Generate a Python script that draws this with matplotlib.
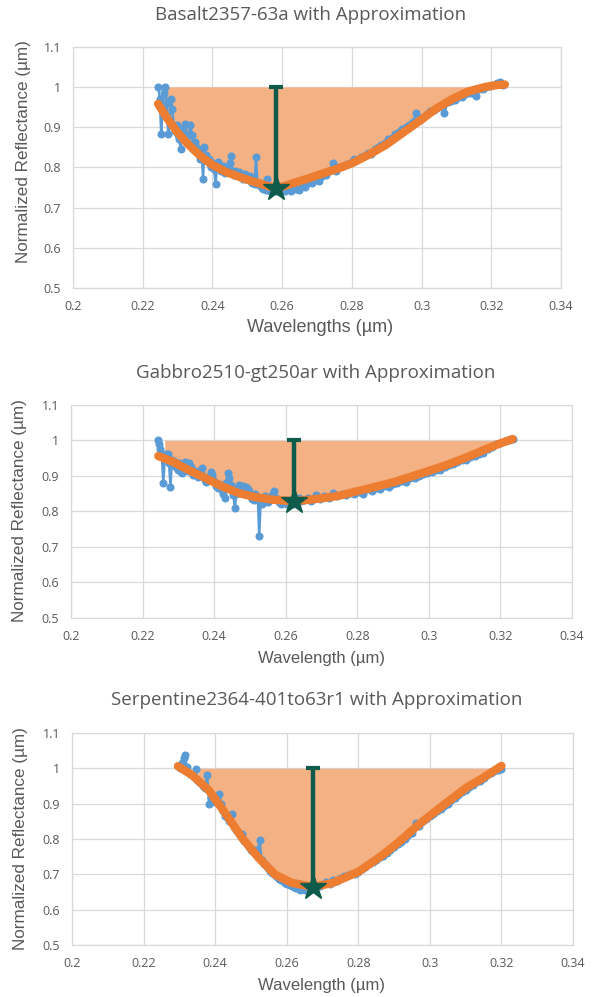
import numpy as np
import matplotlib
matplotlib.use("Agg")
import matplotlib.pyplot as plt

# ---------------- data ----------------
TITLES = ["Basalt2357-63a with Approximation",
          "Gabbro2510-gt250ar with Approximation",
          "Serpentine2364-401to63r1 with Approximation"]
XLABELS = ["Wavelengths (µm)", "Wavelength (µm)", "Wavelength (µm)"]
YLABEL = "Normalized Reflectance (µm)"

XTICKS = [0.2, 0.22, 0.24, 0.26, 0.28, 0.3, 0.32, 0.34]
XTICKLABELS = ["0.2", "0.22", "0.24", "0.26", "0.28", "0.3", "0.32", "0.34"]
YTICKS = [0.5, 0.6, 0.7, 0.8, 0.9, 1.0, 1.1]
YTICKLABELS = ["0.5", "0.6", "0.7", "0.8", "0.9", "1", "1.1"]

# Basalt measured spectrum
basalt_x = [0.2245, 0.2249, 0.2253, 0.2257, 0.2261, 0.2265, 0.2269, 0.2273, 0.2277, 0.2281,
            0.2285, 0.2289, 0.2293, 0.2297, 0.2301, 0.2305, 0.2309, 0.2313, 0.2317, 0.2321,
            0.2325, 0.2329, 0.2333, 0.2337, 0.2341, 0.2345, 0.2349, 0.2353, 0.2357, 0.2361,
            0.2365, 0.2369, 0.2373, 0.2377, 0.2381, 0.2385, 0.2389, 0.2393, 0.2397, 0.2401,
            0.2405, 0.2409, 0.2413, 0.2417, 0.2421, 0.2425, 0.2429, 0.2433, 0.2437, 0.2441,
            0.2445, 0.2449, 0.2453, 0.2457, 0.2461, 0.2465, 0.2469, 0.2473, 0.2477, 0.2481,
            0.2485, 0.2489, 0.2493, 0.2497, 0.2501, 0.2505, 0.2509, 0.2513, 0.2517, 0.2521,
            0.2525, 0.2529, 0.2533, 0.2537, 0.2541, 0.2545, 0.2549, 0.2553, 0.2557, 0.2561,
            0.2565, 0.2569, 0.2573, 0.2577, 0.2581, 0.2585, 0.2593, 0.2601, 0.2609, 0.2617,
            0.2625, 0.2633, 0.2641, 0.2649, 0.2657, 0.2665, 0.2675, 0.2685, 0.2695, 0.2705,
            0.2715, 0.2725, 0.2735, 0.2745, 0.2755, 0.2765, 0.2775, 0.2785, 0.2795, 0.2805,
            0.2815, 0.2825, 0.2835, 0.2845, 0.2855, 0.2865, 0.2875, 0.2885, 0.2895, 0.2905,
            0.2915, 0.2925, 0.2935, 0.2945, 0.2955, 0.2965, 0.2975, 0.2985, 0.2995, 0.3005,
            0.3015, 0.3025, 0.3035, 0.3045, 0.3055, 0.3065, 0.3075, 0.3085, 0.3095, 0.3105,
            0.3115, 0.3125, 0.3135, 0.3145, 0.3155, 0.3165, 0.3175, 0.3185, 0.3195, 0.3205,
            0.3215, 0.3225, 0.3235]
basalt_y = [1.000, 0.970, 0.883, 0.950, 0.985, 1.000, 0.960, 0.883, 0.917, 0.970,
            0.946, 0.900, 0.890, 0.905, 0.880, 0.870, 0.846, 0.880, 0.895, 0.908,
            0.875, 0.860, 0.883, 0.905, 0.880, 0.855, 0.862, 0.850, 0.840, 0.835,
            0.821, 0.846, 0.771, 0.850, 0.830, 0.815, 0.821, 0.808, 0.800, 0.812,
            0.795, 0.758, 0.805, 0.813, 0.800, 0.790, 0.804, 0.798, 0.785, 0.795,
            0.790, 0.810, 0.829, 0.792, 0.782, 0.790, 0.784, 0.780, 0.788, 0.776,
            0.780, 0.772, 0.783, 0.770, 0.775, 0.768, 0.779, 0.762, 0.770, 0.758,
            0.825, 0.762, 0.755, 0.760, 0.748, 0.746, 0.752, 0.744, 0.771, 0.748,
            0.742, 0.740, 0.742, 0.745, 0.740, 0.742, 0.738, 0.744, 0.740, 0.746,
            0.741, 0.752, 0.746, 0.744, 0.754, 0.750, 0.762, 0.760, 0.768, 0.766,
            0.778, 0.782, 0.790, 0.810, 0.792, 0.800, 0.804, 0.808, 0.812, 0.820,
            0.818, 0.826, 0.828, 0.835, 0.832, 0.845, 0.850, 0.855, 0.860, 0.870,
            0.872, 0.882, 0.888, 0.895, 0.900, 0.905, 0.912, 0.935, 0.918, 0.925,
            0.932, 0.940, 0.942, 0.948, 0.952, 0.935, 0.962, 0.966, 0.968, 0.974,
            0.976, 0.982, 0.984, 0.986, 0.977, 0.994, 0.996, 1.000, 1.002, 1.004,
            1.010, 1.012, 1.004]
# Basalt approximation
basalt_fit_x = [0.2244, 0.2270, 0.2297, 0.2325, 0.2351, 0.2375, 0.2400, 0.2440, 0.2481, 0.2515,
                0.2546, 0.2565, 0.2583, 0.2600, 0.2629, 0.2677, 0.2724, 0.2760, 0.2800, 0.2850,
                0.2898, 0.2945, 0.3000, 0.3040, 0.3088, 0.3135, 0.3183, 0.3210, 0.3239]
basalt_fit_y = [0.958, 0.922, 0.890, 0.862, 0.840, 0.822, 0.806, 0.788, 0.775, 0.765,
                0.757, 0.752, 0.750, 0.752, 0.760, 0.773, 0.787, 0.797, 0.810, 0.832,
                0.856, 0.885, 0.919, 0.945, 0.970, 0.989, 1.000, 1.004, 1.006]
basalt_min = (0.2583, 0.749)

# Gabbro measured spectrum
gabbro_x = [0.2242, 0.2246, 0.2250, 0.2254, 0.2258, 0.2262, 0.2266, 0.2270, 0.2274, 0.2278,
            0.2282, 0.2286, 0.2290, 0.2294, 0.2298, 0.2302, 0.2306, 0.2310, 0.2314, 0.2318,
            0.2322, 0.2326, 0.2330, 0.2334, 0.2338, 0.2342, 0.2346, 0.2350, 0.2354, 0.2358,
            0.2362, 0.2366, 0.2370, 0.2374, 0.2378, 0.2382, 0.2386, 0.2390, 0.2394, 0.2398,
            0.2402, 0.2406, 0.2410, 0.2414, 0.2418, 0.2422, 0.2426, 0.2430, 0.2434, 0.2438,
            0.2442, 0.2446, 0.2450, 0.2454, 0.2458, 0.2462, 0.2466, 0.2470, 0.2474, 0.2478,
            0.2482, 0.2486, 0.2490, 0.2494, 0.2498, 0.2502, 0.2506, 0.2510, 0.2514, 0.2518,
            0.2522, 0.2526, 0.2530, 0.2534, 0.2538, 0.2542, 0.2546, 0.2550, 0.2556, 0.2562,
            0.2568, 0.2574, 0.2580, 0.2586, 0.2592, 0.2598, 0.2604, 0.2612, 0.2620, 0.2628,
            0.2636, 0.2644, 0.2652, 0.2662, 0.2672, 0.2684, 0.2696, 0.2708, 0.2720, 0.2732,
            0.2744, 0.2756, 0.2768, 0.2780, 0.2792, 0.2804, 0.2816, 0.2828, 0.2840, 0.2852,
            0.2864, 0.2876, 0.2888, 0.2900, 0.2912, 0.2924, 0.2936, 0.2948, 0.2960, 0.2972,
            0.2984, 0.2996, 0.3008, 0.3020, 0.3032, 0.3044, 0.3056, 0.3068, 0.3080, 0.3092,
            0.3104, 0.3116, 0.3128, 0.3140, 0.3152, 0.3164, 0.3176, 0.3188, 0.3200, 0.3212,
            0.3224, 0.3236]
gabbro_y = [1.002, 0.991, 0.975, 0.955, 0.879, 0.950, 0.962, 0.963, 0.935, 0.870,
            0.944, 0.930, 0.940, 0.925, 0.918, 0.935, 0.912, 0.907, 0.926, 0.940,
            0.920, 0.915, 0.935, 0.925, 0.910, 0.902, 0.915, 0.907, 0.896, 0.912,
            0.905, 0.921, 0.900, 0.888, 0.882, 0.895, 0.898, 0.910, 0.902, 0.888,
            0.884, 0.872, 0.865, 0.878, 0.870, 0.860, 0.850, 0.837, 0.880, 0.907,
            0.895, 0.875, 0.862, 0.845, 0.809, 0.850, 0.865, 0.874, 0.870, 0.866,
            0.872, 0.860, 0.868, 0.862, 0.856, 0.845, 0.835, 0.832, 0.848, 0.840,
            0.838, 0.730, 0.830, 0.822, 0.835, 0.842, 0.828, 0.825, 0.832, 0.845,
            0.856, 0.838, 0.826, 0.822, 0.828, 0.824, 0.820, 0.826, 0.822, 0.830,
            0.837, 0.828, 0.832, 0.838, 0.830, 0.847, 0.836, 0.842, 0.838, 0.851,
            0.842, 0.848, 0.846, 0.852, 0.850, 0.855, 0.850, 0.862, 0.858, 0.866,
            0.864, 0.872, 0.870, 0.878, 0.880, 0.886, 0.884, 0.895, 0.893, 0.900,
            0.904, 0.908, 0.910, 0.918, 0.916, 0.926, 0.930, 0.934, 0.938, 0.944,
            0.946, 0.952, 0.955, 0.962, 0.966, 0.975, 0.982, 0.990, 0.992, 0.998,
            1.002, 1.003]
gabbro_fit_x = [0.2244, 0.2284, 0.2330, 0.2377, 0.2423, 0.2470, 0.2516, 0.2563, 0.2600, 0.2623,
                0.2660, 0.2702, 0.2749, 0.2800, 0.2850, 0.2907, 0.2950, 0.3000, 0.3050, 0.3097,
                0.3135, 0.3170, 0.3200, 0.3234]
gabbro_fit_y = [0.956, 0.940, 0.916, 0.893, 0.870, 0.851, 0.840, 0.833, 0.830, 0.829,
                0.832, 0.837, 0.844, 0.857, 0.869, 0.884, 0.898, 0.914, 0.931, 0.949,
                0.965, 0.980, 0.992, 1.004]
gabbro_min = (0.2623, 0.829)

# Serpentine measured spectrum
serp_x = [0.2303, 0.2308, 0.2312, 0.2316, 0.2320, 0.2325, 0.2330, 0.2335, 0.2340, 0.2346,
          0.2350, 0.2355, 0.2360, 0.2366, 0.2372, 0.2378, 0.2383, 0.2388, 0.2394, 0.2400,
          0.2406, 0.2411, 0.2416, 0.2422, 0.2428, 0.2434, 0.2440, 0.2446, 0.2452, 0.2458,
          0.2464, 0.2470, 0.2476, 0.2482, 0.2488, 0.2494, 0.2500, 0.2506, 0.2512, 0.2518,
          0.2524, 0.2530, 0.2536, 0.2542, 0.2548, 0.2554, 0.2560, 0.2566, 0.2572, 0.2578,
          0.2584, 0.2590, 0.2596, 0.2602, 0.2608, 0.2614, 0.2620, 0.2626, 0.2632, 0.2638,
          0.2644, 0.2650, 0.2656, 0.2662, 0.2668, 0.2676, 0.2684, 0.2692, 0.2700, 0.2710,
          0.2720, 0.2730, 0.2740, 0.2750, 0.2760, 0.2770, 0.2780, 0.2790, 0.2800, 0.2810,
          0.2820, 0.2830, 0.2840, 0.2850, 0.2860, 0.2870, 0.2880, 0.2890, 0.2900, 0.2910,
          0.2920, 0.2930, 0.2940, 0.2950, 0.2960, 0.2970, 0.2980, 0.2990, 0.3000, 0.3010,
          0.3020, 0.3030, 0.3040, 0.3050, 0.3060, 0.3070, 0.3080, 0.3090, 0.3100, 0.3110,
          0.3120, 0.3130, 0.3140, 0.3150, 0.3160, 0.3170, 0.3180, 0.3190, 0.3200]
serp_y = [1.000, 1.015, 1.030, 1.037, 1.005, 0.990, 0.985, 0.982, 0.975, 0.999,
          0.968, 0.962, 0.958, 0.950, 0.945, 0.980, 0.900, 0.915, 0.912, 0.905,
          0.915, 0.928, 0.900, 0.880, 0.865, 0.862, 0.850, 0.870, 0.835, 0.825,
          0.820, 0.810, 0.815, 0.795, 0.785, 0.778, 0.770, 0.765, 0.770, 0.760,
          0.797, 0.740, 0.730, 0.725, 0.718, 0.710, 0.703, 0.697, 0.692, 0.688,
          0.683, 0.680, 0.676, 0.672, 0.670, 0.668, 0.665, 0.662, 0.660, 0.656,
          0.658, 0.655, 0.660, 0.657, 0.662, 0.664, 0.668, 0.666, 0.672, 0.678,
          0.674, 0.683, 0.680, 0.690, 0.694, 0.698, 0.702, 0.700, 0.708, 0.716,
          0.720, 0.728, 0.736, 0.740, 0.748, 0.753, 0.760, 0.770, 0.776, 0.786,
          0.792, 0.800, 0.810, 0.818, 0.845, 0.838, 0.850, 0.856, 0.864, 0.870,
          0.880, 0.886, 0.894, 0.900, 0.910, 0.916, 0.924, 0.934, 0.940, 0.948,
          0.952, 0.960, 0.964, 0.972, 0.980, 0.986, 0.992, 0.996, 0.998]
serp_fit_x = [0.2296, 0.2337, 0.2383, 0.2429, 0.2476, 0.2522, 0.2568, 0.2614, 0.2660, 0.2674,
              0.2727, 0.2800, 0.2867, 0.2914, 0.2961, 0.3000, 0.3056, 0.3103, 0.3150, 0.3200]
serp_fit_y = [1.006, 0.980, 0.937, 0.872, 0.802, 0.746, 0.699, 0.676, 0.667, 0.665,
              0.675, 0.707, 0.754, 0.792, 0.834, 0.866, 0.910, 0.946, 0.974, 1.007]
serp_min = (0.2674, 0.665)

# where the shaded band starts on the left of each panel
FILL_START = [0.2262, 0.2262, 0.2352]

# ---------------- style ----------------
BLUE = "#5B9BD5"
ORANGE = "#ED7D31"
FILL = "#F4B183"
GREEN = "#0F5B4B"
GRID = "#D9D9D9"
TEXT = "#595959"

W, H = 592, 997
fig = plt.figure(figsize=(W / 100, H / 100), dpi=100)


def px_axes(left, top, right, bottom):
    return fig.add_axes([left / W, 1 - bottom / H, (right - left) / W, (bottom - top) / H])


def fig_text(x, y, s, **kw):
    fig.text(x / W, 1 - y / H, s, ha="center", va="center", color=TEXT, **kw)


panels = [
    dict(rect=(73, 46.7, 561, 288), title_xy=(311, 15), xlab_xy=(320, 328), ylab_xy=(24, 152),
         xlab_size=13, meas=(basalt_x, basalt_y), fit=(basalt_fit_x, basalt_fit_y), star=basalt_min),
    dict(rect=(71, 405, 572, 617.7), title_xy=(316, 373), xlab_xy=(321, 658), ylab_xy=(20, 511),
         xlab_size=12, meas=(gabbro_x, gabbro_y), fit=(gabbro_fit_x, gabbro_fit_y), star=gabbro_min),
    dict(rect=(72, 733, 573, 945), title_xy=(317, 700), xlab_xy=(321, 985), ylab_xy=(21, 839),
         xlab_size=12, meas=(serp_x, serp_y), fit=(serp_fit_x, serp_fit_y), star=serp_min),
]

for i, p in enumerate(panels):
    ax = px_axes(*p["rect"])
    ax.set_xlim(0.2, 0.34)
    ax.set_ylim(0.5, 1.1)
    ax.set_xticks(XTICKS)
    ax.set_xticklabels(XTICKLABELS, family="Open Sans")
    ax.set_yticks(YTICKS)
    ax.set_yticklabels(YTICKLABELS, family="Open Sans")
    ax.tick_params(length=0, pad=8.5, labelsize=9, labelcolor=TEXT)
    ax.grid(True, color=GRID, lw=0.9, zorder=0)
    ax.set_axisbelow(True)
    for sp in ax.spines.values():
        sp.set_color(GRID)
        sp.set_linewidth(0.9)

    ox = np.array(p["fit"][0])
    oy = np.array(p["fit"][1])
    start = FILL_START[i]
    keep = ox > start
    fx = np.r_[start, ox[keep]]
    fy = np.r_[np.interp(start, ox, oy), oy[keep]]
    ax.fill_between(fx, fy, 1.0, where=fy <= 1.0, interpolate=True,
                    color=FILL, lw=0, zorder=1)

    mx, my = p["meas"]
    ax.plot(mx, my, color=BLUE, lw=1.8, marker="o", ms=4.8, mec=BLUE, zorder=2)
    ax.plot(ox, oy, color=ORANGE, lw=6, solid_capstyle="round",
            solid_joinstyle="round", zorder=3)

    sx, sy = p["star"]
    ax.errorbar([sx], [sy], yerr=[[0], [1.0 - sy]], fmt="none", ecolor=GREEN,
                elinewidth=3.2, capsize=4.8, capthick=3, zorder=4)
    ax.plot([sx], [sy], marker="*", ms=19, color=GREEN, mec=GREEN, zorder=5)

    fig_text(*p["title_xy"], TITLES[i], fontsize=13.5, family="Open Sans")
    fig_text(*p["xlab_xy"], XLABELS[i], fontsize=p["xlab_size"], family="Liberation Sans")
    fig_text(*p["ylab_xy"], YLABEL, fontsize=12.3, family="Liberation Sans", rotation=90)

fig.savefig("out.png", dpi=100)
